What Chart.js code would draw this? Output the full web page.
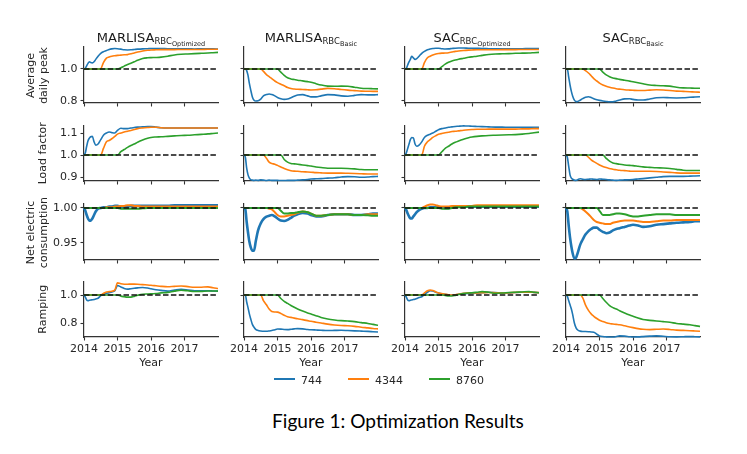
<!DOCTYPE html>
<html><head><meta charset="utf-8">
<script src="https://cdn.jsdelivr.net/npm/chart.js@4.4.1/dist/chart.umd.min.js"></script>
<style>
html,body{margin:0;padding:0;background:#fff;}
#fig{position:relative;width:747px;height:454px;overflow:hidden;background:#fff;font-family:'DejaVu Sans',sans-serif;color:#1a1a1a;}
canvas{position:absolute;}
.t{position:absolute;white-space:nowrap;}
</style></head><body><div id="fig"></div>
<script>
// ---------------- DATA ----------------
const years = [2014.00,2014.04,2014.08,2014.12,2014.16,2014.20,2014.25,2014.30,2014.35,2014.42,2014.50,2014.58,2014.67,2014.75,2014.83,2014.92,2015.00,2015.10,2015.20,2015.30,2015.40,2015.50,2015.60,2015.75,2015.90,2016.00,2016.15,2016.30,2016.50,2016.70,2016.90,2017.10,2017.30,2017.50,2017.70,2017.85,2018.00];
const xTickYears = [2014, 2015, 2016, 2017];
const seriesNames = ['744', '4344', '8760'];
const columnTitles = [['MARLISA','RBC','Optimized'],['MARLISA','RBC','Basic'],['SAC','RBC','Optimized'],['SAC','RBC','Basic']];
const rowLabels = [['Average','daily peak'],['Load factor'],['Net electric','consumption'],['Ramping']];
const yTickValues = [[0.8,1.0],[0.9,1.0,1.1],[0.95,1.0],[0.8,1.0]];
const yTickLabels = [['0.8','1.0'],['0.9','1.0','1.1'],['0.95','1.00'],['0.8','1.0']];
const baselineValue = 1.0;
const xAxisTitle = 'Year';
const caption = 'Figure 1: Optimization Results';

// Average daily peak
const peak_MARLISA_opt_744  = [1,1.005,1.02,1.035,1.045,1.04,1.038,1.045,1.06,1.08,1.098,1.108,1.115,1.122,1.126,1.128,1.127,1.124,1.12,1.119,1.12,1.122,1.124,1.126,1.127,1.128,1.128,1.128,1.127,1.127,1.126,1.126,1.125,1.126,1.126,1.126,1.125];
const peak_MARLISA_opt_4344 = [1,1,1,1,1,1,1,1,1,1,1.002,1.04,1.068,1.075,1.08,1.083,1.085,1.087,1.089,1.09,1.095,1.1,1.106,1.112,1.117,1.119,1.12,1.121,1.121,1.121,1.122,1.122,1.122,1.122,1.123,1.123,1.123];
const peak_MARLISA_opt_8760 = [1,1,1,1,1,1,1,1,1,1,1,1,1,1,1,1,1,1.008,1.018,1.028,1.036,1.045,1.055,1.066,1.07,1.071,1.072,1.074,1.08,1.088,1.092,1.094,1.096,1.098,1.1,1.102,1.104];
const peak_MARLISA_basic_744  = [1,1,0.99,0.96,0.91,0.87,0.825,0.805,0.8,0.801,0.812,0.832,0.84,0.844,0.84,0.832,0.822,0.814,0.81,0.812,0.82,0.83,0.837,0.84,0.832,0.826,0.826,0.832,0.84,0.838,0.832,0.83,0.835,0.84,0.838,0.838,0.84];
const peak_MARLISA_basic_4344 = [1,1,1,1,1,1,1,1,1,1,1,0.985,0.965,0.952,0.94,0.925,0.915,0.905,0.895,0.884,0.878,0.875,0.873,0.872,0.87,0.869,0.87,0.874,0.879,0.877,0.872,0.868,0.865,0.862,0.861,0.86,0.86];
const peak_MARLISA_basic_8760 = [1,1,1,1,1,1,1,1,1,1,1,1,1,1,1,1,1,0.98,0.96,0.945,0.938,0.934,0.93,0.926,0.921,0.917,0.908,0.9,0.893,0.892,0.893,0.892,0.886,0.88,0.878,0.877,0.876];
const peak_SAC_opt_744  = [1,1.005,1.025,1.045,1.06,1.08,1.07,1.06,1.065,1.08,1.098,1.11,1.12,1.125,1.128,1.13,1.13,1.127,1.125,1.126,1.128,1.13,1.131,1.131,1.13,1.13,1.129,1.128,1.127,1.126,1.126,1.126,1.127,1.127,1.128,1.128,1.128];
const peak_SAC_opt_4344 = [1,1,1,1,1,1,1,1,1,1,1,1.04,1.07,1.08,1.088,1.094,1.097,1.099,1.1,1.102,1.106,1.11,1.113,1.116,1.118,1.119,1.12,1.12,1.12,1.12,1.121,1.121,1.121,1.122,1.122,1.122,1.122];
const peak_SAC_opt_8760 = [1,1,1,1,1,1,1,1,1,1,1,1,1,1,1,1,1,1.015,1.03,1.042,1.05,1.056,1.061,1.067,1.073,1.076,1.08,1.085,1.091,1.094,1.095,1.096,1.098,1.099,1.1,1.102,1.104];
const peak_SAC_basic_744  = [1,1,0.95,0.9,0.86,0.83,0.805,0.796,0.797,0.805,0.815,0.823,0.827,0.822,0.814,0.808,0.804,0.8,0.797,0.795,0.795,0.8,0.806,0.813,0.814,0.81,0.806,0.806,0.812,0.82,0.822,0.82,0.819,0.82,0.823,0.825,0.827];
const peak_SAC_basic_4344 = [1,1,1,1,1,1,1,1,1,1,1,0.99,0.975,0.958,0.94,0.925,0.912,0.9,0.892,0.886,0.881,0.877,0.874,0.87,0.868,0.867,0.866,0.866,0.868,0.87,0.869,0.866,0.862,0.86,0.858,0.856,0.855];
const peak_SAC_basic_8760 = [1,1,1,1,1,1,1,1,1,1,1,1,1,1,1,1,1,0.98,0.963,0.952,0.944,0.94,0.935,0.93,0.924,0.92,0.914,0.908,0.9,0.897,0.895,0.893,0.886,0.882,0.881,0.88,0.88];

// Load factor
const lf_MARLISA_opt_744  = [1,1.01,1.04,1.065,1.077,1.083,1.085,1.06,1.045,1.05,1.07,1.09,1.1,1.105,1.102,1.1,1.112,1.122,1.12,1.12,1.123,1.125,1.127,1.128,1.13,1.13,1.127,1.124,1.123,1.123,1.123,1.123,1.123,1.123,1.123,1.123,1.123];
const lf_MARLISA_opt_4344 = [1,1,1,1,1,1,1,1,1,1,1,1.03,1.06,1.066,1.074,1.085,1.095,1.1,1.105,1.108,1.112,1.116,1.12,1.123,1.125,1.126,1.126,1.124,1.123,1.123,1.123,1.123,1.123,1.123,1.123,1.123,1.123];
const lf_MARLISA_opt_8760 = [1,1,1,1,1,1,1,1,1,1,1,1,1,1,1,1,1,1.015,1.025,1.035,1.043,1.05,1.058,1.068,1.076,1.08,1.082,1.083,1.085,1.087,1.089,1.09,1.092,1.094,1.096,1.098,1.1];
const lf_MARLISA_basic_744  = [1,0.99,0.94,0.91,0.895,0.888,0.886,0.885,0.886,0.885,0.887,0.886,0.884,0.886,0.885,0.885,0.885,0.884,0.884,0.885,0.885,0.885,0.886,0.887,0.889,0.891,0.892,0.893,0.895,0.897,0.9,0.902,0.901,0.899,0.9,0.902,0.903];
const lf_MARLISA_basic_4344 = [1,1,1,1,1,1,1,1,1,1,1,1,0.985,0.968,0.962,0.958,0.953,0.946,0.939,0.933,0.929,0.927,0.926,0.924,0.923,0.922,0.92,0.919,0.918,0.918,0.918,0.917,0.916,0.915,0.914,0.914,0.914];
const lf_MARLISA_basic_8760 = [1,1,1,1,1,1,1,1,1,1,1,1,1,1,1,1,1,1,0.98,0.968,0.962,0.96,0.958,0.955,0.952,0.95,0.946,0.943,0.94,0.94,0.94,0.939,0.937,0.934,0.933,0.933,0.933];
const lf_SAC_opt_744  = [1,1.01,1.03,1.05,1.07,1.08,1.078,1.05,1.04,1.045,1.06,1.08,1.09,1.095,1.1,1.108,1.115,1.12,1.123,1.126,1.128,1.13,1.131,1.133,1.132,1.131,1.13,1.129,1.128,1.127,1.127,1.126,1.126,1.126,1.126,1.126,1.126];
const lf_SAC_opt_4344 = [1,1,1,1,1,1,1,1,1,1,1,1.04,1.06,1.07,1.08,1.088,1.094,1.098,1.101,1.104,1.107,1.108,1.11,1.113,1.115,1.116,1.117,1.117,1.118,1.118,1.118,1.118,1.118,1.119,1.119,1.12,1.12];
const lf_SAC_opt_8760 = [1,1,1,1,1,1,1,1,1,1,1,1,1,1,1,1,1,1.015,1.03,1.04,1.05,1.058,1.064,1.072,1.079,1.082,1.085,1.087,1.089,1.09,1.091,1.092,1.093,1.095,1.098,1.101,1.104];
const lf_SAC_basic_744  = [1,0.99,0.95,0.91,0.895,0.89,0.886,0.885,0.888,0.892,0.89,0.889,0.89,0.891,0.89,0.889,0.891,0.89,0.889,0.887,0.886,0.885,0.886,0.887,0.888,0.889,0.891,0.893,0.896,0.899,0.902,0.903,0.903,0.903,0.904,0.905,0.906];
const lf_SAC_basic_4344 = [1,1,1,1,1,1,1,1,1,1,1,1,0.99,0.978,0.97,0.962,0.955,0.948,0.943,0.939,0.935,0.933,0.931,0.929,0.927,0.926,0.926,0.926,0.926,0.925,0.923,0.921,0.919,0.918,0.918,0.918,0.918];
const lf_SAC_basic_8760 = [1,1,1,1,1,1,1,1,1,1,1,1,1,1,1,1,1,1,0.985,0.972,0.964,0.961,0.958,0.955,0.953,0.952,0.949,0.946,0.944,0.942,0.941,0.939,0.935,0.931,0.93,0.93,0.93];

// Net electric consumption
const net_MARLISA_opt_744  = [1,0.996,0.99,0.985,0.982,0.982,0.985,0.99,0.995,0.999,1,1.001,1.001,1.002,1.002,1.003,1.003,1.002,1.002,1.002,1.003,1.003,1.003,1.003,1.003,1.003,1.003,1.003,1.003,1.004,1.004,1.004,1.004,1.004,1.004,1.004,1.004];
const net_MARLISA_opt_4344 = [1,1,1,1,1,1,1,1,1,1,1,1,1.001,1.001,1.001,1.002,1.002,1.003,1.003,1.004,1.004,1.003,1.003,1.002,1.002,1.002,1.002,1.002,1.002,1.002,1.002,1.002,1.002,1.002,1.002,1.002,1.002];
const net_MARLISA_opt_8760 = [1,1,1,1,1,1,1,1,1,1,1,1,1,1,1,1,1,0.999,0.999,0.999,0.999,0.999,0.999,0.9995,1,1,1,1,1,1,1,1,1,1,1,1,1];
const net_MARLISA_basic_744  = [1,0.998,0.98,0.965,0.952,0.944,0.939,0.939,0.952,0.968,0.978,0.984,0.9876,0.989,0.99,0.988,0.985,0.982,0.9815,0.983,0.986,0.989,0.991,0.993,0.992,0.99,0.988,0.988,0.99,0.991,0.991,0.991,0.99,0.99,0.991,0.992,0.992];
const net_MARLISA_basic_4344 = [1,1,1,1,1,1,1,1,1,1,1,1,1,0.999,0.998,0.994,0.99,0.988,0.988,0.989,0.99,0.991,0.993,0.995,0.994,0.992,0.989,0.989,0.99,0.991,0.991,0.991,0.99,0.99,0.991,0.991,0.991];
const net_MARLISA_basic_8760 = [1,1,1,1,1,1,1,1,1,1,1,1,1,1,1,1,1,0.996,0.992,0.992,0.993,0.993,0.994,0.995,0.994,0.992,0.989,0.989,0.99,0.991,0.991,0.991,0.99,0.99,0.9895,0.989,0.989];
const net_SAC_opt_744  = [1,0.997,0.992,0.988,0.985,0.985,0.988,0.991,0.994,0.997,0.999,1,1,1.001,1.001,1.001,1.001,1.001,1,1,1.001,1.001,1.002,1.002,1.002,1.002,1.002,1.002,1.002,1.002,1.002,1.002,1.002,1.002,1.002,1.002,1.002];
const net_SAC_opt_4344 = [1,1,1,1,1,1,1,1,1,1,1,1.002,1.004,1.005,1.005,1.004,1.003,1.002,1.002,1.002,1.003,1.003,1.003,1.003,1.003,1.003,1.004,1.004,1.004,1.004,1.004,1.004,1.004,1.004,1.004,1.004,1.004];
const net_SAC_opt_8760 = [1,1,1,1,1,1,1,1,1,1,1,1,1,1,1,1,1,0.999,0.999,0.999,1,1.001,1.001,1.001,1.002,1.002,1.002,1.002,1.002,1.002,1.002,1.002,1.002,1.002,1.002,1.002,1.002];
const net_SAC_basic_744  = [1,0.995,0.975,0.958,0.945,0.935,0.928,0.929,0.936,0.947,0.955,0.962,0.967,0.97,0.972,0.972,0.969,0.966,0.964,0.965,0.968,0.97,0.971,0.973,0.975,0.976,0.975,0.973,0.974,0.976,0.977,0.978,0.979,0.9795,0.98,0.981,0.981];
const net_SAC_basic_4344 = [1,1,1,1,1,1,1,1,1,1,0.998,0.995,0.991,0.987,0.983,0.98,0.979,0.978,0.977,0.977,0.979,0.98,0.981,0.982,0.982,0.982,0.981,0.98,0.98,0.981,0.982,0.982,0.983,0.983,0.983,0.983,0.983];
const net_SAC_basic_8760 = [1,1,1,1,1,1,1,1,1,1,1,1,1,1,1,1,0.996,0.99,0.99,0.99,0.991,0.992,0.992,0.991,0.989,0.988,0.988,0.989,0.99,0.991,0.991,0.991,0.99,0.99,0.99,0.99,0.99];

// Ramping
const ramp_MARLISA_opt_744  = [1,0.985,0.965,0.96,0.962,0.964,0.966,0.968,0.972,0.977,0.995,1.005,1.012,1.016,1.022,1.03,1.068,1.058,1.047,1.042,1.045,1.048,1.051,1.054,1.05,1.045,1.038,1.033,1.028,1.035,1.04,1.036,1.031,1.03,1.03,1.029,1.028];
const ramp_MARLISA_opt_4344 = [1,1,1,1,1,1,1,1,1,1,1,1.012,1.022,1.024,1.027,1.035,1.087,1.08,1.077,1.077,1.078,1.078,1.077,1.074,1.072,1.07,1.066,1.062,1.059,1.062,1.064,1.06,1.055,1.056,1.058,1.052,1.047];
const ramp_MARLISA_opt_8760 = [1,1,1,1,1,1,1,1,1,1,1,1,1,1,1,1,1,0.992,0.988,0.985,0.985,0.99,0.998,1.006,1.007,1.008,1.011,1.015,1.019,1.028,1.034,1.03,1.025,1.026,1.029,1.029,1.028];
const ramp_MARLISA_basic_744  = [1,1,0.95,0.91,0.865,0.83,0.79,0.77,0.755,0.747,0.743,0.741,0.741,0.743,0.746,0.752,0.757,0.756,0.754,0.753,0.755,0.758,0.76,0.758,0.754,0.752,0.75,0.748,0.746,0.747,0.748,0.746,0.744,0.742,0.74,0.738,0.736];
const ramp_MARLISA_basic_4344 = [1,1,1,1,1,1,1,1,1,1,1,0.96,0.93,0.9,0.882,0.879,0.878,0.868,0.856,0.845,0.84,0.835,0.83,0.824,0.817,0.812,0.806,0.8,0.792,0.786,0.782,0.78,0.776,0.77,0.765,0.761,0.758];
const ramp_MARLISA_basic_8760 = [1,1,1,1,1,1,1,1,1,1,1,1,1,1,1,1,1,0.975,0.955,0.94,0.925,0.912,0.9,0.885,0.872,0.865,0.852,0.84,0.829,0.822,0.817,0.814,0.81,0.803,0.797,0.79,0.784];
const ramp_SAC_opt_744  = [1,0.985,0.965,0.96,0.962,0.965,0.968,0.97,0.975,0.982,0.988,1.005,1.02,1.03,1.028,1.02,1.014,1.008,1.005,1.002,1,1,1.005,1.01,1.012,1.012,1.014,1.016,1.02,1.017,1.013,1.015,1.018,1.02,1.022,1.019,1.016];
const ramp_SAC_opt_4344 = [1,1,1,1,1,1,1,1,1,1,1,1.015,1.03,1.035,1.032,1.022,1.015,1.01,1.006,1.002,1,1.002,1.006,1.012,1.016,1.016,1.015,1.016,1.018,1.016,1.014,1.016,1.019,1.02,1.021,1.019,1.017];
const ramp_SAC_opt_8760 = [1,1,1,1,1,1,1,1,1,1,1,1,1,1,1,1,1,1,0.997,0.994,0.993,0.997,1.004,1.01,1.014,1.016,1.02,1.024,1.02,1.013,1.014,1.018,1.02,1.022,1.024,1.02,1.016];
const ramp_SAC_basic_744  = [1,0.99,0.96,0.93,0.9,0.86,0.8,0.765,0.75,0.742,0.739,0.739,0.738,0.736,0.734,0.72,0.708,0.703,0.701,0.7,0.7,0.703,0.708,0.706,0.702,0.7,0.701,0.703,0.706,0.708,0.705,0.702,0.701,0.702,0.703,0.702,0.701];
const ramp_SAC_basic_4344 = [1,1,1,1,1,1,1,1,1,1,0.98,0.93,0.89,0.865,0.848,0.832,0.82,0.81,0.802,0.796,0.793,0.79,0.787,0.78,0.772,0.767,0.76,0.755,0.753,0.755,0.757,0.754,0.749,0.747,0.745,0.743,0.741];
const ramp_SAC_basic_8760 = [1,1,1,1,1,1,1,1,1,1,1,1,1,1,1,1,1,0.975,0.948,0.925,0.91,0.9,0.888,0.872,0.857,0.848,0.835,0.825,0.819,0.814,0.81,0.805,0.797,0.792,0.787,0.781,0.776];

// ---------------- LAYOUT / STYLE ----------------
const panels = [
  [[peak_MARLISA_opt_744,peak_MARLISA_opt_4344,peak_MARLISA_opt_8760],[peak_MARLISA_basic_744,peak_MARLISA_basic_4344,peak_MARLISA_basic_8760],[peak_SAC_opt_744,peak_SAC_opt_4344,peak_SAC_opt_8760],[peak_SAC_basic_744,peak_SAC_basic_4344,peak_SAC_basic_8760]],
  [[lf_MARLISA_opt_744,lf_MARLISA_opt_4344,lf_MARLISA_opt_8760],[lf_MARLISA_basic_744,lf_MARLISA_basic_4344,lf_MARLISA_basic_8760],[lf_SAC_opt_744,lf_SAC_opt_4344,lf_SAC_opt_8760],[lf_SAC_basic_744,lf_SAC_basic_4344,lf_SAC_basic_8760]],
  [[net_MARLISA_opt_744,net_MARLISA_opt_4344,net_MARLISA_opt_8760],[net_MARLISA_basic_744,net_MARLISA_basic_4344,net_MARLISA_basic_8760],[net_SAC_opt_744,net_SAC_opt_4344,net_SAC_opt_8760],[net_SAC_basic_744,net_SAC_basic_4344,net_SAC_basic_8760]],
  [[ramp_MARLISA_opt_744,ramp_MARLISA_opt_4344,ramp_MARLISA_opt_8760],[ramp_MARLISA_basic_744,ramp_MARLISA_basic_4344,ramp_MARLISA_basic_8760],[ramp_SAC_opt_744,ramp_SAC_opt_4344,ramp_SAC_opt_8760],[ramp_SAC_basic_744,ramp_SAC_basic_4344,ramp_SAC_basic_8760]]
];
const colLeft = [84, 244, 405, 566], plotW = 134;
const rowTop = [47, 126, 204, 282], rowH = [56, 55, 56, 55];
const yRange = [[0.7875, 1.1375], [0.882, 1.132], [0.9257, 1.0057], [0.70, 1.093]];
const xRange = [2014, 2018];
const lineWidths = [[1.6,1.6,1.6],[1.6,1.6,1.6],[2.6,2.0,2.0],[1.6,1.6,1.6]];
const colors = ['#1f77b4', '#ff7f0e', '#2ca02c'];
const YW = 42, PT = 8, PR = 8, XH = 22;
const axisColor = '#333333', textColor = '#262626';
const FONT = 'DejaVu Sans';

Chart.defaults.font.family = FONT;
Chart.defaults.color = textColor;

const fig = document.getElementById('fig');

function addText(html, css) {
  const d = document.createElement('div');
  d.className = 't';
  d.innerHTML = html;
  Object.assign(d.style, css);
  fig.appendChild(d);
  return d;
}

for (let r = 0; r < 4; r++) {
  for (let c = 0; c < 4; c++) {
    const cv = document.createElement('canvas');
    const W = YW + plotW + PR, H = PT + rowH[r] + XH;
    cv.width = W; cv.height = H;
    cv.style.left = (colLeft[c] - YW) + 'px';
    cv.style.top = (rowTop[r] - PT) + 'px';
    cv.style.width = W + 'px'; cv.style.height = H + 'px';
    fig.appendChild(cv);

    const datasets = panels[r][c].map((arr, i) => ({
      label: seriesNames[i],
      data: years.map((x, k) => ({x: x, y: arr[k]})),
      borderColor: colors[i],
      borderWidth: lineWidths[r][i],
      pointRadius: 0,
      fill: false,
      cubicInterpolationMode: 'monotone',
      clip: false,
      order: 3 - i
    }));
    datasets.push({
      label: 'baseline',
      data: [{x: xRange[0], y: baselineValue}, {x: xRange[1], y: baselineValue}],
      borderColor: '#111111',
      borderWidth: 1.5,
      borderDash: [5.5, 2.4],
      pointRadius: 0,
      fill: false,
      clip: false,
      order: 0
    });

    const isBottom = r === 3, isLeft = c === 0;
    new Chart(cv, {
      type: 'line',
      data: {datasets},
      options: {
        responsive: false, animation: false, devicePixelRatio: 1,
        layout: {padding: {top: PT, right: PR, bottom: 0, left: 0}},
        plugins: {legend: {display: false}, tooltip: {enabled: false}, title: {display: false}},
        events: [],
        scales: {
          x: {
            type: 'linear', min: xRange[0], max: xRange[1], bounds: 'data',
            afterBuildTicks: s => { s.ticks = xTickYears.map(v => ({value: v})); },
            afterFit: s => { s.height = XH; s.paddingLeft = 0; s.paddingRight = 0; s.paddingTop = 0; s.paddingBottom = 0; },
            grid: {display: true, drawOnChartArea: false, drawTicks: true, tickLength: 3.5, tickColor: axisColor, tickWidth: 1.1},
            border: {display: true, color: axisColor, width: 1.2},
            ticks: {display: isBottom, autoSkip: false, maxRotation: 0, minRotation: 0, padding: 2.5,
                    color: textColor, font: {family: FONT, size: 11},
                    callback: (v) => String(v)}
          },
          y: {
            type: 'linear', min: yRange[r][0], max: yRange[r][1], bounds: 'data',
            afterBuildTicks: s => { s.ticks = yTickValues[r].map(v => ({value: v})); },
            afterFit: s => { s.width = YW; s.paddingLeft = 0; s.paddingRight = 0; s.paddingTop = 0; s.paddingBottom = 0; },
            grid: {display: true, drawOnChartArea: false, drawTicks: true, tickLength: 3.5, tickColor: axisColor, tickWidth: 1.1},
            border: {display: true, color: axisColor, width: 1.2},
            ticks: {display: isLeft, autoSkip: false, padding: 3,
                    color: textColor, font: {family: FONT, size: 11},
                    callback: (v, i) => yTickLabels[r][i]}
          }
        }
      }
    });
  }
}

// column titles
for (let c = 0; c < 4; c++) {
  const t = columnTitles[c];
  const cx = colLeft[c] + plotW / 2;
  addText(`${t[0]}<span style="font-size:8.5px;position:relative;top:2px">${t[1]}<span style="font-size:6.5px;position:relative;top:2px">${t[2]}</span></span>`,
    {left: (cx - 110) + 'px', width: '220px', top: '31px', textAlign: 'center', fontSize: '13px', lineHeight: '13px', color: '#1a1a1a'});
}

// row labels (rotated)
for (let r = 0; r < 4; r++) {
  const lines = rowLabels[r];
  const lh = 12.5, h = lines.length * lh;
  const cx = 49 - h / 2, cy = rowTop[r] + rowH[r] / 2;
  addText(lines.join('<br>'), {left: (cx - 70) + 'px', top: (cy - h / 2) + 'px', width: '140px', height: h + 'px',
    textAlign: 'center', fontSize: '11px', lineHeight: lh + 'px', transform: 'rotate(-90deg)', color: textColor});
}

// x axis titles
for (let c = 0; c < 4; c++) {
  const cx = colLeft[c] + plotW / 2;
  addText(xAxisTitle, {left: (cx - 40) + 'px', width: '80px', top: '356.7px', textAlign: 'center', fontSize: '11px', lineHeight: '11px', color: textColor});
}

// legend
const legendX = [274, 348, 429];
for (let i = 0; i < 3; i++) {
  const ln = document.createElement('div');
  Object.assign(ln.style, {position: 'absolute', left: legendX[i] + 'px', top: '378.2px', width: '21px', height: '1.6px', background: colors[i]});
  fig.appendChild(ln);
  addText(seriesNames[i], {left: (legendX[i] + 27) + 'px', top: '374.7px', fontSize: '11px', lineHeight: '11px', color: textColor});
}

// caption
(function () {
  const ctx = document.createElement('canvas').getContext('2d');
  ctx.font = '20px Lato';
  const w = ctx.measureText(caption).width;
  const size = 20 * 252 / w;
  addText(caption, {left: (398 - 200) + 'px', width: '400px', textAlign: 'center', fontFamily: 'Lato', fontSize: size + 'px',
    lineHeight: size + 'px', top: (428 - 0.887 * size) + 'px', color: '#000'});
})();
</script></body></html>
